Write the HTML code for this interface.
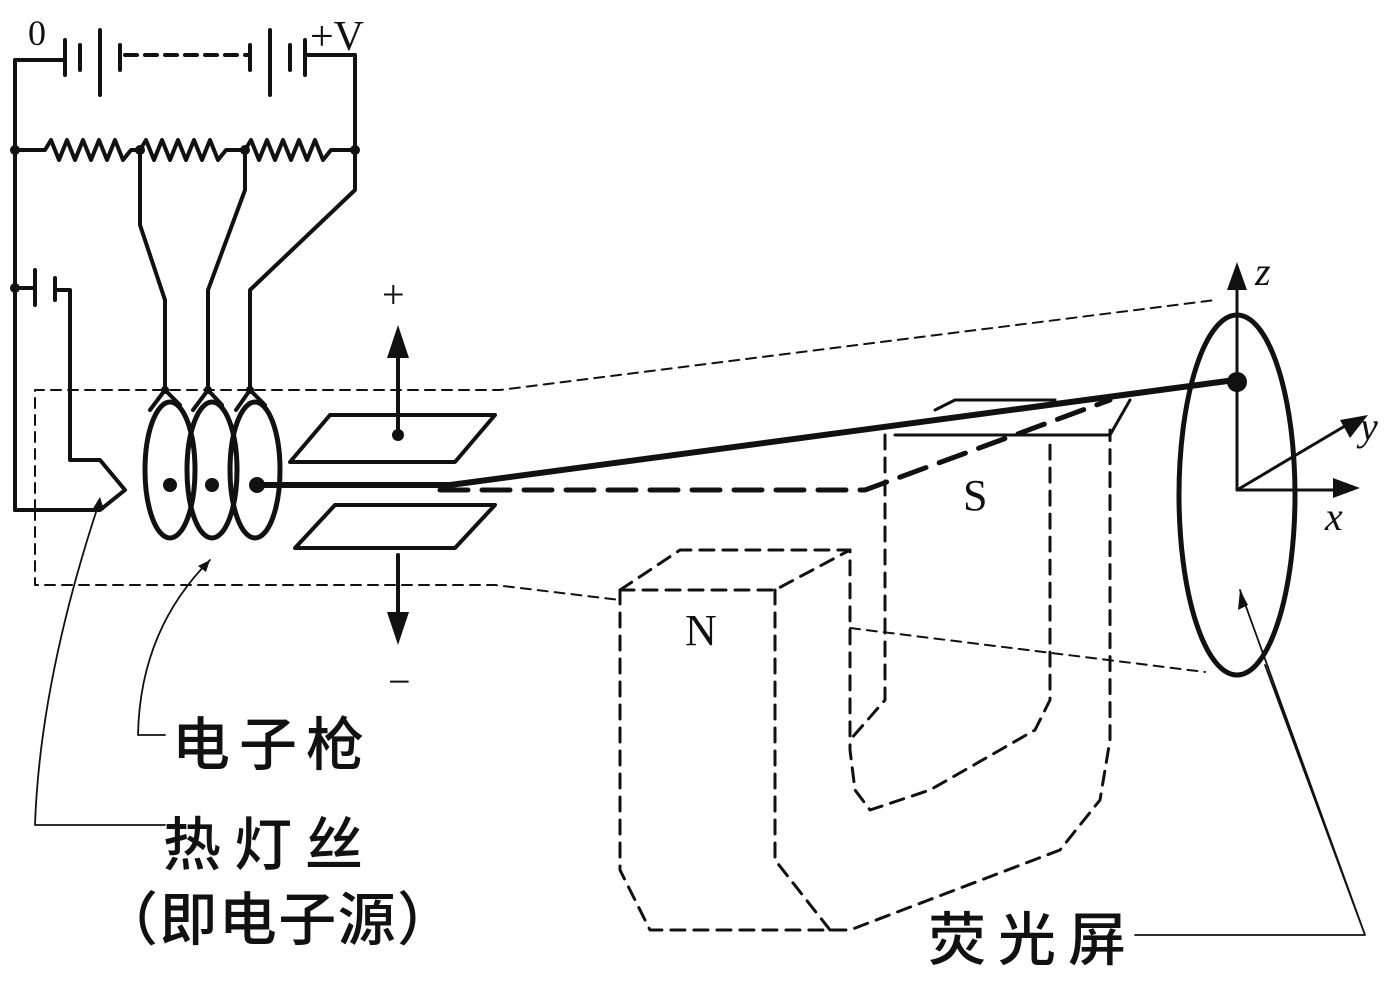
<!DOCTYPE html>
<html><head><meta charset="utf-8"><style>
html,body{margin:0;padding:0;background:#fff;}
svg{display:block}
text{font-family:"Liberation Serif","Noto Serif CJK SC",serif;fill:#111}
.cn{font-family:"Liberation Sans","Noto Sans CJK SC",sans-serif;font-size:58px;font-weight:500}
</style></head><body>
<svg width="1397" height="983" viewBox="0 0 1397 983" xmlns="http://www.w3.org/2000/svg">
<g fill="none" stroke="#111" stroke-width="4" stroke-linecap="round" stroke-linejoin="round">
<path d="M15 510 V60 H65 M305 55 H355 V150"/>
<path d="M65 40 V75 M80 45 V70 M100 30 V95 M120 45 V70" />
<path d="M250 45 V70 M270 30 V95 M290 45 V70 M305 40 V75"/>
<path d="M125 55 H250" stroke-dasharray="12 8"/>
<path d="M15 150 H45 l6 -10 l8 20 l8 -20 l8 20 l8 -20 l8 20 l8 -20 l8 20 l8 -20 l8 20 l8 -10 H140 l6 -10 l8 20 l8 -20 l8 20 l8 -20 l8 20 l8 -20 l8 20 l8 -20 l8 20 l8 -10 H245 l6 -10 l8 20 l8 -20 l8 20 l8 -20 l8 20 l8 -20 l8 20 l8 -20 l8 20 l8 -10 H355"/>
<path d="M140 150 V225 L165 300 V390 M245 150 V190 L208 290 V390 M355 150 V190 L250 290 V390"/>
<path d="M15 288 H35 M35 270 V305 M55 278 V300 M55 290 H70 V460 H100 L125 490 L100 510 H15"/>
<ellipse cx="170" cy="470" rx="25" ry="68" stroke-width="5"/>
<ellipse cx="212" cy="470" rx="25" ry="68" stroke-width="5"/>
<ellipse cx="255" cy="470" rx="25" ry="68" stroke-width="5"/>
<path d="M165 390 L150 410 M165 390 L180 405 M208 390 L193 410 M208 390 L222 405 M250 390 L236 410 M250 390 L265 405"/>
<path d="M290 462 L330 415 H495 L455 462 Z"/>
<path d="M295 548 L335 505 H495 L455 548 Z"/>
<path d="M398 435 V340 M398 555 V630"/>
<path d="M262 485 H450 L1235 380" stroke-width="6"/>
<path d="M440 490 H865 L1110 400" stroke-width="5" stroke-dasharray="28 14"/>
<path d="M935 410 L955 400 H1055 M895 435 H1110 L1130 400" stroke-width="3"/>
<path d="M35 510 V390 H500 L1215 300 M35 510 V585 H495 L620 600 M850 628 L1205 672" stroke-width="2" stroke-dasharray="10 7"/>
<ellipse cx="1237" cy="495" rx="58" ry="180" stroke-width="5"/>
<path d="M1237 490 V280 M1237 490 H1345 M1237 490 L1355 420" stroke-width="3"/>
<g stroke-dasharray="14 9" stroke-width="3">
<path d="M620 590 L680 550 H850 V750 L855 790 L870 810 L930 790 L1035 730 L1050 700 V440"/>
<path d="M620 590 H775 L850 550 M775 590 V860 L830 930 M620 590 V870 L650 930 H850 L1060 850 L1100 800 L1110 740 V430"/>
<path d="M885 435 V700 L850 740"/>
</g>
<path d="M35 825 H165 M35 825 Q40 680 100 500" stroke-width="1.8"/>
<path d="M138 735 H165 M138 735 Q140 630 210 560" stroke-width="1.8"/>
<path d="M1135 935 H1365 L1240 590 M1365 935 L1265 665" stroke-width="1.8"/>
</g>
<g fill="#111">
<circle cx="15" cy="150" r="5"/><circle cx="140" cy="150" r="5"/><circle cx="245" cy="150" r="5"/><circle cx="355" cy="150" r="5"/>
<circle cx="15" cy="288" r="5"/><circle cx="398" cy="435" r="6"/><circle cx="1237" cy="382" r="10"/>
<circle cx="165" cy="390" r="4"/><circle cx="208" cy="390" r="4"/><circle cx="250" cy="390" r="4"/>
<circle cx="170" cy="485" r="7"/><circle cx="212" cy="485" r="7"/><circle cx="257" cy="485" r="8"/>
<polygon points="398,325 387,358 409,358"/>
<polygon points="398,645 387,612 409,612"/>
<polygon points="1237,262 1227,290 1247,290"/>
<polygon points="1360,488 1333,478 1333,498"/>
<polygon points="1368,415 1340,420 1350,438"/>
<polygon points="1240,590 1238,610 1248,605"/>
<polygon points="100,497 92,510 104,510"/>
<polygon points="210,560 198,566 206,572"/>
</g>
<text x="28" y="45" font-size="36">0</text>
<text x="310" y="50" font-size="42">+V</text>
<text x="382" y="308" font-size="40">+</text>
<text x="388" y="695" font-size="40">−</text>
<text x="685" y="645" font-size="44">N</text>
<text x="963" y="510" font-size="44">S</text>
<text x="1255" y="285" font-size="40" font-style="italic">z</text>
<text x="1360" y="440" font-size="40" font-style="italic">y</text>
<text x="1325" y="530" font-size="40" font-style="italic">x</text>
<text class="cn" x="172" y="765" textLength="192">电子枪</text>
<text class="cn" x="163" y="865" textLength="200">热灯丝</text>
<text class="cn" x="100" y="940" textLength="355">（即电子源）</text>
<text class="cn" x="928" y="960" textLength="198">荧光屏</text>
</svg>
</body></html>
